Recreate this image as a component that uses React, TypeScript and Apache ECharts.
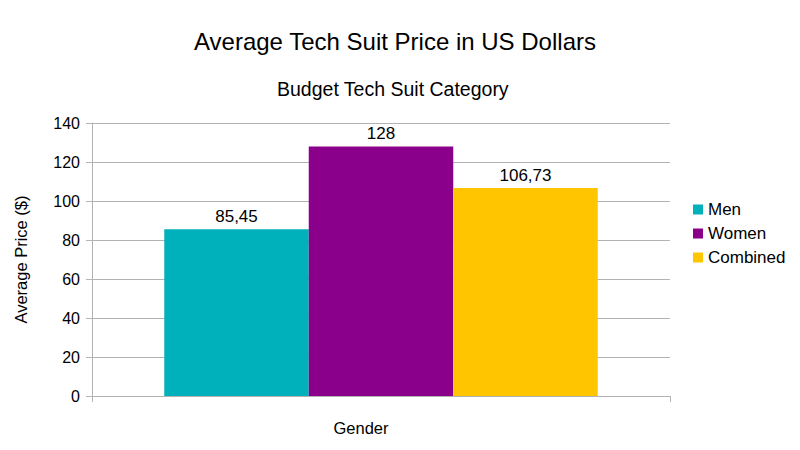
import React, { useEffect, useRef } from "react";
import * as echarts from "echarts";

const categories = ["Gender"];
const seriesNames = ["Men", "Women", "Combined"];
const seriesValues = [[85.45], [128], [106.73]];
const seriesColors = ["#00B1BC", "#8B008B", "#FFC600"];
const yTicks = { min: 0, max: 140, interval: 20 };

const FONT = "'Liberation Sans', Arial, sans-serif";

export default function App() {
  const ref = useRef<HTMLDivElement>(null);
  useEffect(() => {
    if (!ref.current) return;
    const chart = echarts.init(ref.current, null, { renderer: "svg" });
    chart.setOption({
      animation: false,
      backgroundColor: "#ffffff",
      textStyle: { fontFamily: FONT },
      title: [
        {
          text: "Average Tech Suit Price in US Dollars",
          left: 189,
          top: 24,
          textStyle: { fontSize: 24, fontWeight: "normal", color: "#000", fontFamily: FONT },
        },
        {
          text: "Budget Tech Suit Category",
          left: 272,
          top: 74,
          textStyle: { fontSize: 19.5, fontWeight: "normal", color: "#000", fontFamily: FONT },
        },
      ],
      legend: {
        orient: "vertical",
        left: 688,
        top: 196,
        itemWidth: 10,
        itemHeight: 10,
        itemGap: 7,
        icon: "rect",
        textStyle: { fontSize: 17, color: "#000", fontFamily: FONT },
        data: seriesNames,
      },
      grid: { left: 92, right: 130, top: 123, bottom: 54, containLabel: false },
      xAxis: {
        type: "category",
        data: categories,
        axisLine: { show: true, lineStyle: { color: "#b3b3b3" } },
        axisTick: { show: true, length: 6, lineStyle: { color: "#b3b3b3" } },
        axisLabel: {
          fontSize: 16.5,
          color: "#000",
          margin: 23,
          padding: [0, 40, 0, 0],
          fontFamily: FONT,
        },
      },
      yAxis: {
        type: "value",
        min: yTicks.min,
        max: yTicks.max,
        interval: yTicks.interval,
        name: "Average Price ($)",
        nameLocation: "middle",
        nameGap: 63,
        nameTextStyle: { fontSize: 16.5, color: "#000", fontFamily: FONT },
        axisLine: { show: true, lineStyle: { color: "#b3b3b3" } },
        axisTick: { show: true, length: 6, lineStyle: { color: "#b3b3b3" } },
        axisLabel: { fontSize: 16, color: "#000", margin: 12, fontFamily: FONT },
        splitLine: { show: true, lineStyle: { color: "#b3b3b3" } },
      },
      series: seriesNames.map((name, i) => ({
        name,
        type: "bar",
        data: seriesValues[i],
        barGap: "0%",
        barCategoryGap: "25%",
        itemStyle: { color: seriesColors[i] },
        label: {
          show: true,
          position: "top",
          distance: 4,
          fontSize: 17,
          color: "#000",
          fontFamily: FONT,
          formatter: (p: any) => String(p.value).replace(".", ","),
        },
      })),
    });
    return () => chart.dispose();
  }, []);
  return <div ref={ref} style={{ width: 800, height: 450, position: "absolute", left: 0, top: 0 }} />;
}
